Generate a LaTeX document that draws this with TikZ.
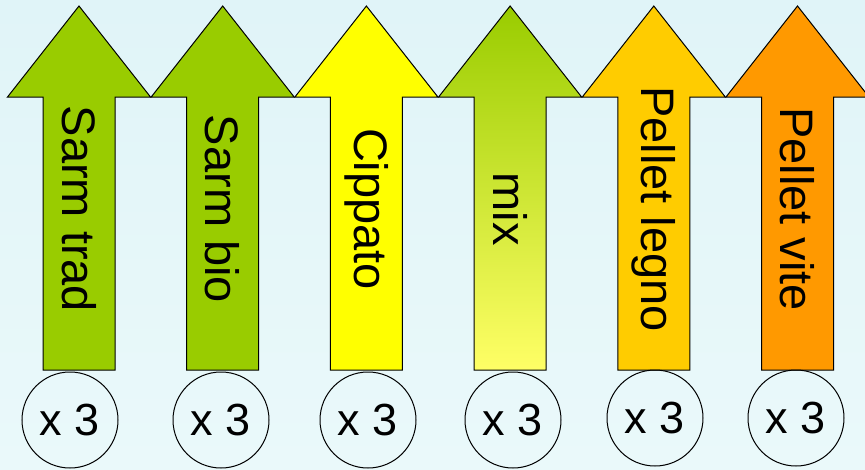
\documentclass[tikz,border=0pt]{standalone}
\usepackage{fontspec}
\setmainfont{Liberation Sans}
\usetikzlibrary{positioning}

\definecolor{bgtop}{RGB}{224,244,248}
\definecolor{bgbottom}{RGB}{234,249,250}
\definecolor{sarmgreen}{HTML}{99CC00}
\definecolor{cippyellow}{HTML}{FFFF00}
\definecolor{mixlight}{HTML}{FFFF66}
\definecolor{leg}{HTML}{FFCC00}
\definecolor{vite}{HTML}{FF9900}

\tikzset{
  fuel/.style={draw=black, line width=1pt, line join=miter},
  sarmfill/.style={fill=sarmgreen},
  cippfill/.style={fill=cippyellow},
  mixfill/.style={top color=sarmgreen, bottom color=mixlight},
  legnofill/.style={fill=leg},
  vitefill/.style={fill=vite},
  fuellabel/.style={rotate=-90, inner sep=0pt, font=\fontsize{47}{47}\selectfont},
  countbox/.style={draw=black, circle, line width=1pt, minimum size=96pt,
                   inner sep=0pt, font=\fontsize{45}{45}\selectfont}
}

\begin{document}
\begin{tikzpicture}[x=1pt, y=-1pt]
    % background
    \shade[top color=bgtop, bottom color=bgbottom] (0,0) rectangle (865,469);
    \useasboundingbox (0,0) rectangle (865,469);

    % fuel arrows
    \foreach \i/\sty/\txt in {0/sarmfill/Sarm trad, 1/sarmfill/Sarm bio,
                              2/cippfill/Cippato, 3/mixfill/mix,
                              4/legnofill/Pellet legno, 5/vitefill/Pellet vite}{
        \pgfmathsetmacro{\cx}{79+143.7*\i}
        \path[fuel, \sty] (\cx-71.5,97) -- (\cx,6) -- (\cx+71.5,97) -- (\cx+36,97)
            -- (\cx+36,370) -- (\cx-36,370) -- (\cx-36,97) -- cycle;
        \node[fuellabel] (fuel\i) at (\cx,209) {\txt};
    }

    % repetitions
    \foreach \i/\x/\y in {0/70/420, 1/221/420, 2/368/420, 3/513/420, 4/655/418, 5/796/418}{
        \node[countbox] (count\i) at (\x,\y) {x 3};
    }
\end{tikzpicture}
\end{document}
